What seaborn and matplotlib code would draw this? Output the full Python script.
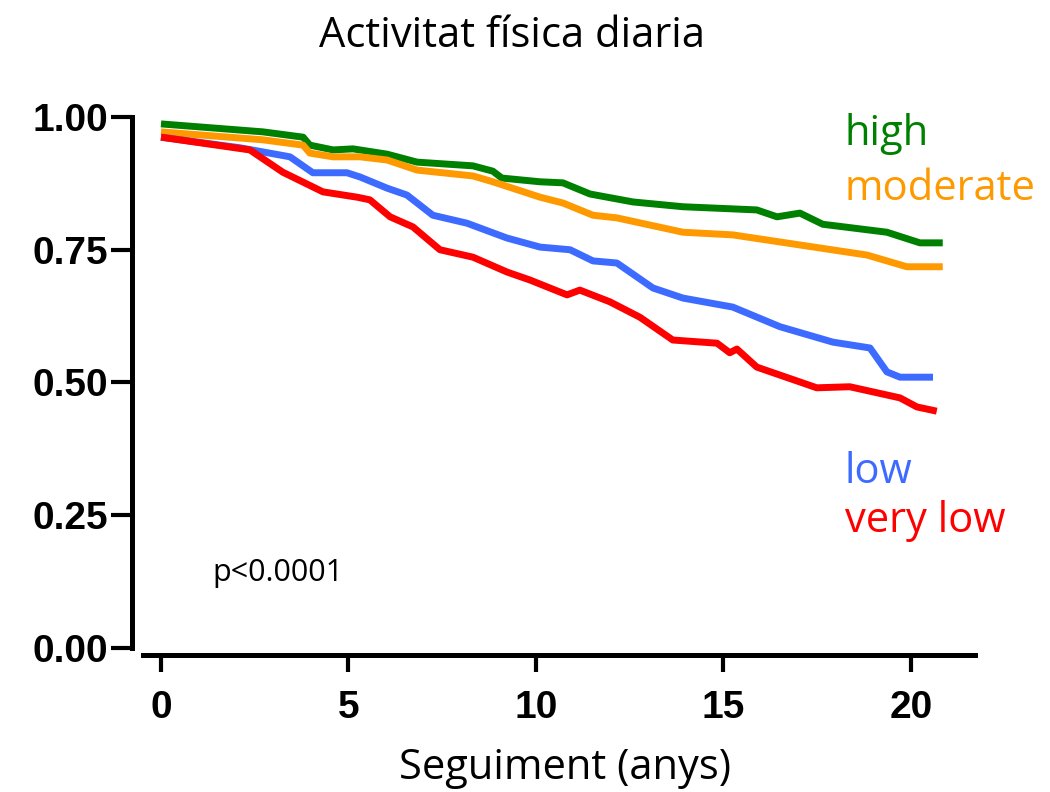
import numpy as np
import pandas as pd
import matplotlib
matplotlib.use("Agg")
import matplotlib.pyplot as plt
import seaborn as sns

# ---- data ----
high_t = [0, 2.72, 3.79, 3.97, 4.59, 5.12, 6.03, 6.83, 8.32, 8.85, 9.09, 10.11, 10.72, 11.44, 12.59, 13.92, 15.89, 16.43, 17.04, 17.65, 19.36, 20.24, 20.85]
high_s = [0.987, 0.972, 0.962, 0.947, 0.938, 0.940, 0.930, 0.915, 0.908, 0.898, 0.885, 0.878, 0.876, 0.855, 0.840, 0.831, 0.825, 0.812, 0.819, 0.798, 0.783, 0.763, 0.763]

mod_t = [0, 2.72, 3.79, 3.97, 4.59, 5.31, 6.03, 6.83, 8.32, 8.85, 10.11, 10.72, 11.52, 12.16, 13.92, 15.25, 17.04, 18.83, 19.89, 20.85]
mod_s = [0.972, 0.957, 0.947, 0.932, 0.925, 0.925, 0.919, 0.900, 0.889, 0.878, 0.849, 0.838, 0.815, 0.810, 0.783, 0.778, 0.759, 0.740, 0.718, 0.718]

low_t = [0, 2.11, 3.44, 4.05, 4.96, 5.31, 6.03, 6.56, 7.25, 8.16, 9.23, 10.11, 10.91, 11.52, 12.16, 13.12, 13.92, 15.25, 16.51, 17.92, 18.91, 19.36, 19.71, 20.59]
low_s = [0.962, 0.942, 0.925, 0.895, 0.895, 0.887, 0.866, 0.853, 0.815, 0.800, 0.772, 0.755, 0.750, 0.729, 0.725, 0.678, 0.659, 0.642, 0.605, 0.576, 0.565, 0.520, 0.510, 0.510]

vlow_t = [0, 2.37, 3.25, 4.32, 5.23, 5.57, 6.11, 6.72, 7.44, 8.32, 9.23, 9.84, 10.83, 11.17, 11.97, 12.77, 13.65, 14.83, 15.17, 15.36, 15.89, 17.49, 18.37, 19.71, 20.16, 20.69]
vlow_s = [0.962, 0.938, 0.896, 0.859, 0.849, 0.844, 0.812, 0.793, 0.750, 0.736, 0.708, 0.693, 0.665, 0.674, 0.652, 0.623, 0.580, 0.574, 0.556, 0.563, 0.529, 0.490, 0.492, 0.471, 0.454, 0.446]

groups = ["high", "moderate", "low", "very low"]
colors = ["#008000", "#FF9900", "#3D6BFF", "#FF0000"]
x_ticks = [0, 5, 10, 15, 20]
y_ticks = [0.00, 0.25, 0.50, 0.75, 1.00]
y_ticklabels = ["0.00", "0.25", "0.50", "0.75", "1.00"]
title = "Activitat física diaria"
xlabel = "Seguiment (anys)"
ptext = "p<0.0001"

frames = []
for g, t, s in zip(groups, [high_t, mod_t, low_t, vlow_t], [high_s, mod_s, low_s, vlow_s]):
    frames.append(pd.DataFrame({"t": t, "s": s, "group": g}))
df = pd.concat(frames, ignore_index=True)

sns.set_theme(style="white")
plt.rcParams["font.family"] = ["Open Sans", "DejaVu Sans"]

W, H = 1050, 792
fig = plt.figure(figsize=(W / 100, H / 100), dpi=100)
# axes in pixel coords: left 143, right 975, top 117, bottom 655
ax = fig.add_axes([143 / W, 1 - 655 / H, (975 - 143) / W, (655 - 117) / H])

sns.lineplot(data=df, x="t", y="s", hue="group", hue_order=groups,
             palette=colors, linewidth=5, sort=False, estimator=None,
             legend=False, ax=ax)
for line in ax.get_lines():
    line.set_solid_capstyle("butt")
    line.set_solid_joinstyle("round")

ax.set_xlim(-0.48, 21.71)
ax.set_ylim(-0.0132, 1.0)

for sp in ["top", "right"]:
    ax.spines[sp].set_visible(False)
ax.spines["left"].set_position(("outward", 8))
ax.spines["left"].set_bounds(0, 1)
ax.spines["left"].set_linewidth(3.6)
ax.spines["left"].set_color("black")
ax.spines["bottom"].set_linewidth(3.6)
ax.spines["bottom"].set_color("black")

ax.set_xticks(x_ticks)
ax.set_xticklabels([str(v) for v in x_ticks])
ax.set_yticks(y_ticks)
ax.set_yticklabels(y_ticklabels)
ax.tick_params(axis="y", direction="out", length=15, width=3, color="black", pad=2,
               left=True)
ax.tick_params(axis="x", direction="out", length=12, width=3, color="black", pad=13,
               bottom=True)
for lab in ax.get_yticklabels() + ax.get_xticklabels():
    lab.set_fontfamily(["Liberation Sans", "DejaVu Sans"])
    lab.set_fontweight("bold")
    lab.set_fontsize(28)
    lab.set_color("black")

ax.set_xlabel("")
ax.set_ylabel("")
ax.grid(False)

fig.text(512 / W, 1 - 47 / H, title, ha="center", va="baseline", fontsize=30, color="black")
fig.text(565 / W, 1 - 779 / H, xlabel, ha="center", va="baseline", fontsize=30, color="black")

label_y = [0.947, 0.844, 0.311, 0.218]
for g, c, yy in zip(groups, colors, label_y):
    ax.text(18.24, yy, g, color=c, fontsize=30, ha="left", va="baseline")

ax.text(1.36, 0.126, ptext, fontsize=22, ha="left", va="baseline", color="black")

fig.savefig("out.png", dpi=100, facecolor="white")
